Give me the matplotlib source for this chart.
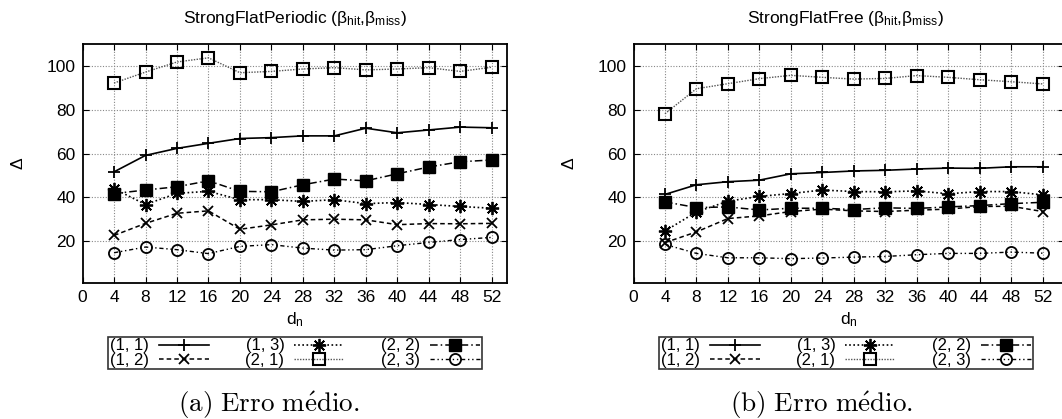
import numpy as np
import matplotlib.pyplot as plt

plt.rcParams['font.family'] = ['Liberation Sans', 'DejaVu Sans']

# eixo x comum
dn = [4, 8, 12, 16, 20, 24, 28, 32, 36, 40, 44, 48, 52]

# (a) StrongFlatPeriodic
per_11 = [51.7, 59.2, 62.4, 64.7, 66.9, 67.3, 68.1, 68.1, 71.6, 69.5, 70.8, 72.1, 71.8]
per_12 = [22.7, 28.2, 32.8, 33.9, 25.5, 27.5, 29.8, 30.1, 29.8, 27.6, 28.1, 28.0, 28.2]
per_13 = [44.0, 36.8, 41.9, 42.8, 39.0, 39.0, 38.2, 39.0, 37.2, 37.7, 36.8, 35.9, 35.1]
per_21 = [92.2, 97.2, 101.8, 103.7, 96.9, 97.5, 98.6, 99.2, 98.2, 98.6, 99.2, 97.5, 99.4]
per_22 = [41.8, 43.4, 44.9, 47.6, 42.8, 42.6, 45.8, 48.4, 47.6, 50.8, 53.9, 56.3, 57.1]
per_23 = [14.8, 17.4, 16.2, 14.4, 17.7, 18.5, 16.9, 16.0, 16.2, 18.0, 19.5, 20.8, 21.8]

# (b) StrongFlatFree
free_11 = [41.4, 45.8, 47.2, 47.9, 50.8, 51.4, 52.1, 52.4, 53.0, 53.4, 53.3, 54.0, 54.0]
free_12 = [19.4, 24.3, 30.4, 31.6, 33.6, 34.7, 33.9, 33.6, 34.2, 34.7, 35.9, 36.0, 33.6]
free_13 = [24.7, 33.4, 38.3, 40.5, 41.8, 43.4, 42.7, 42.6, 43.0, 41.7, 42.7, 42.7, 41.2]
free_21 = [78.2, 89.6, 91.9, 94.2, 95.7, 94.8, 94.0, 94.3, 95.6, 94.8, 93.7, 92.8, 91.8]
free_22 = [38.0, 35.4, 35.7, 34.3, 35.1, 35.1, 34.5, 35.3, 35.0, 35.7, 36.3, 37.2, 37.8]
free_23 = [18.6, 14.5, 12.5, 12.5, 12.1, 12.4, 12.8, 13.1, 13.9, 14.5, 14.5, 15.1, 14.6]

labels = ['(1, 1)', '(1, 2)', '(1, 3)', '(2, 1)', '(2, 2)', '(2, 3)']
titles = [r'StrongFlatPeriodic ($\mathregular{\beta_{hit}}$,$\mathregular{\beta_{miss}}$)',
          r'StrongFlatFree ($\mathregular{\beta_{hit}}$,$\mathregular{\beta_{miss}}$)']
captions = [r'$\mathrm{(a)\ Erro\ m\acute{e}dio.}$', r'$\mathrm{(b)\ Erro\ m\acute{e}dio.}$']

# estilos tipo gnuplot
styles = [
    dict(color='black', ls='-', marker='+', ms=8, mew=1.3, lw=1.2),
    dict(color='black', ls=(0, (3, 2)), marker='x', ms=7, mew=1.3, lw=1.1),
    dict(color='black', ls=(0, (1, 1.5)), marker=(8, 2, 0), ms=9.5, mew=1.3, lw=1.2),
    dict(color='#555555', ls=(0, (1, 1)), marker='s', ms=8, mfc='none', mec='black', mew=1.5, lw=1.0),
    dict(color='black', ls=(0, (5, 2, 1, 2)), marker='s', ms=8.5, mec='black', lw=1.1),
    dict(color='black', ls=(0, (3, 2, 1, 2, 1, 2)), marker='o', ms=8, mfc='none', mec='black', mew=1.3, lw=1.0),
]

fig = plt.figure(figsize=(10.62, 4.19), dpi=100)
ax1 = fig.add_axes([82.6 / 1062, 1 - 283 / 419, 424.8 / 1062, 239 / 419])
ax2 = fig.add_axes([633.5 / 1062, 1 - 283 / 419, 430 / 1062, 239 / 419])

panels = [
    (ax1, [per_11, per_12, per_13, per_21, per_22, per_23], 54.0, 295),
    (ax2, [free_11, free_12, free_13, free_21, free_22, free_23], 54.0 * 430 / 424.8, 846),
]

for i, (ax, series, xmax, xc) in enumerate(panels):
    for vals, lab, st in zip(series, labels, styles):
        ax.plot(dn, vals, label=lab, **st)
    ax.set_xlim(0, xmax)
    ax.set_ylim(1, 110)
    ax.set_xticks([0] + dn)
    ax.set_yticks([20, 40, 60, 80, 100])
    ax.tick_params(direction='in', length=4, labelsize=12.5, top=True, right=True, pad=5)
    for x in dn:
        ax.axvline(x, color='#888888', ls=(0, (1, 1.5)), lw=0.8, zorder=0)
    for y in [20, 40, 60, 80, 100]:
        ax.axhline(y, color='#888888', ls=(0, (1, 1.5)), lw=0.8, zorder=0)
    for sp in ax.spines.values():
        sp.set_linewidth(1.3)
    ax.set_ylabel(r'$\mathregular{\Delta}$', fontsize=12.5, labelpad=15)
    ax.set_xlabel(r'$\mathregular{d_n}$', fontsize=12.5, labelpad=4)
    fig.text(xc / 1062, 1 - 19 / 419, titles[i], ha='center', va='center', fontsize=12.5)

    handles, labs = ax.get_legend_handles_labels()
    leg = fig.legend(handles, labs, loc='center', bbox_to_anchor=(xc / 1062, 1 - 353 / 419),
                     ncol=3, markerfirst=False, frameon=True, fancybox=False,
                     edgecolor='black', fontsize=12, handlelength=3.0, labelspacing=-0.05,
                     columnspacing=2.2, handletextpad=0.6, borderpad=0.1, borderaxespad=0)
    leg.get_frame().set_linewidth(1.2)

fig.text(269 / 1062, 1 - 405 / 419, captions[0], ha='center', va='center', fontsize=19.5, math_fontfamily='cm')
fig.text(821 / 1062, 1 - 405 / 419, captions[1], ha='center', va='center', fontsize=19.5, math_fontfamily='cm')

fig.savefig('out.png', dpi=100)
